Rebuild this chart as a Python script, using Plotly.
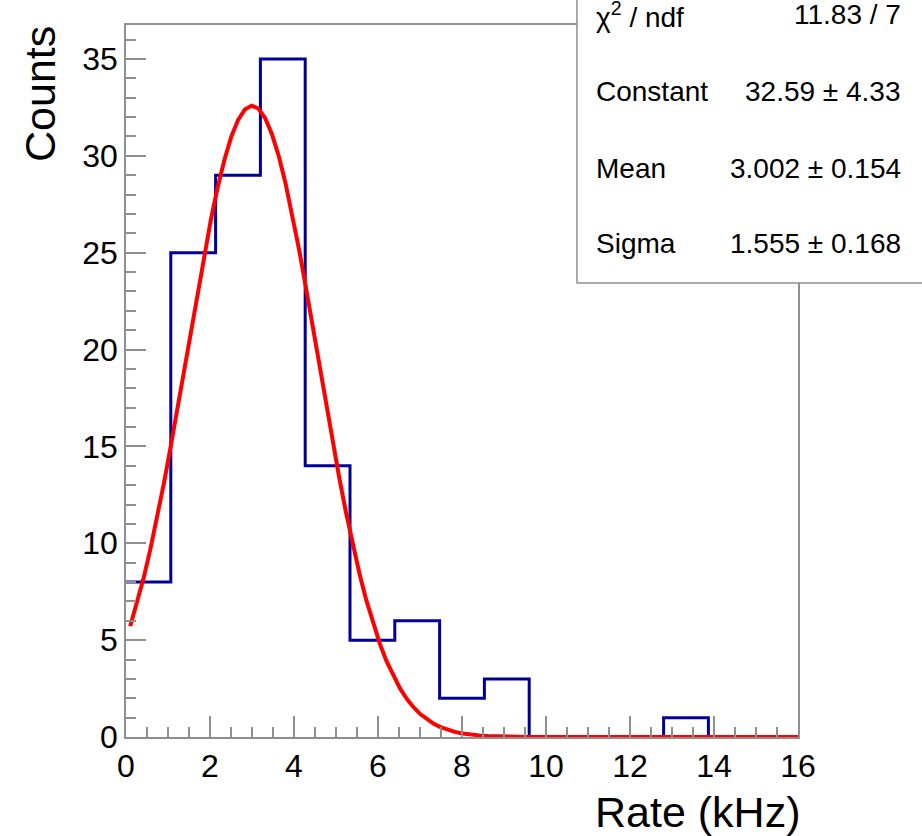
import numpy as np
import plotly.graph_objects as go

# ---- data ----
bin_edges = [i * 16 / 15 for i in range(16)]          # 15 bins on [0, 16]
bin_counts = [8, 25, 29, 35, 14, 5, 6, 2, 3, 0, 0, 0, 1, 0, 0]

# Gaussian fit parameters shown in the stats box
fit_constant = 32.59
fit_mean = 3.002
fit_sigma = 1.555
fit_range = [0.1, 16.0]

stats_labels = ["\u03c7<sup>2</sup> / ndf", "Constant", "Mean", "Sigma"]
stats_values = ["11.83 / 7", "32.59 \u00b1 4.33", "3.002 \u00b1 0.154", "1.555 \u00b1 0.168"]

x_ticks = list(range(0, 17, 2))
y_ticks = list(range(0, 36, 5))

# ---- layout geometry (pixels) ----
W, H = 922, 836
L, R, T, B = 126, 124, 25, 99
pw, ph = W - L - R, H - T - B

def px_to_paper_x(px):
    return (px - L) / pw

def px_to_paper_y(py):
    return (H - B - py) / ph

FONT = "Liberation Sans, Arial, Helvetica, sans-serif"
GRAY = "#8f8f8f"

fig = go.Figure()

# histogram outline (step line through bin edges)
hx = list(bin_edges) + [bin_edges[-1]]
hy = list(bin_counts) + [bin_counts[-1], 0]
fig.add_trace(go.Scatter(
    x=hx, y=hy,
    mode="lines", line=dict(color="#000099", width=3, shape="hv"),
    hoverinfo="skip", showlegend=False,
))

# fit curve from the displayed fit parameters
fx = np.linspace(fit_range[0], fit_range[1], 100)
fy = fit_constant * np.exp(-0.5 * ((fx - fit_mean) / fit_sigma) ** 2)
fig.add_trace(go.Scatter(
    x=fx, y=fy, mode="lines", line=dict(color="#ff0000", width=4),
    hoverinfo="skip", showlegend=False,
))

axis_common = dict(
    showgrid=False, zeroline=False, showline=True, mirror=True,
    linecolor=GRAY, linewidth=1.5, ticks="inside", tickcolor=GRAY,
    tickwidth=1.5, tickfont=dict(family=FONT, size=32, color="black"),
)

fig.update_xaxes(
    range=[0, 16], tickmode="array", tickvals=x_ticks, ticklen=21,
    minor=dict(dtick=0.5, ticklen=10, tickcolor=GRAY, tickwidth=1.5, ticks="inside"),
    **axis_common,
)
fig.update_yaxes(
    range=[0, 36.75], tickmode="array", tickvals=y_ticks, ticklen=20,
    minor=dict(dtick=1, ticklen=10, tickcolor=GRAY, tickwidth=1.5, ticks="inside"),
    **axis_common,
)

# stats box
box_left, box_bottom = 577, 283
fig.add_shape(
    type="rect", xref="paper", yref="paper", layer="above",
    x0=px_to_paper_x(box_left), x1=px_to_paper_x(W + 10),
    y0=px_to_paper_y(box_bottom), y1=px_to_paper_y(-10),
    line=dict(color=GRAY, width=1.5), fillcolor="white",
)
row_y = [15, 92, 168, 244]
for lab, val, yy in zip(stats_labels, stats_values, row_y):
    fig.add_annotation(
        xref="paper", yref="paper", x=px_to_paper_x(594), y=px_to_paper_y(yy),
        xanchor="left", yanchor="middle", text=lab, showarrow=False,
        font=dict(family=FONT, size=28, color="black"),
    )
    fig.add_annotation(
        xref="paper", yref="paper", x=px_to_paper_x(903), y=px_to_paper_y(yy),
        xanchor="right", yanchor="middle", text=val, showarrow=False,
        font=dict(family=FONT, size=28, color="black"),
    )

# axis titles
fig.add_annotation(
    xref="paper", yref="paper", x=px_to_paper_x(697), y=px_to_paper_y(812),
    xanchor="center", yanchor="middle", text="Rate (kHz)", showarrow=False,
    font=dict(family=FONT, size=43, color="black"),
)
fig.add_annotation(
    xref="paper", yref="paper", x=px_to_paper_x(40), y=px_to_paper_y(94),
    xanchor="center", yanchor="middle", text="Counts", textangle=-90,
    showarrow=False, font=dict(family=FONT, size=43, color="black"),
)

fig.update_layout(
    width=W, height=H, margin=dict(l=L, r=R, t=T, b=B, autoexpand=False),
    paper_bgcolor="white", plot_bgcolor="white",
)

fig.write_html("out.html")
